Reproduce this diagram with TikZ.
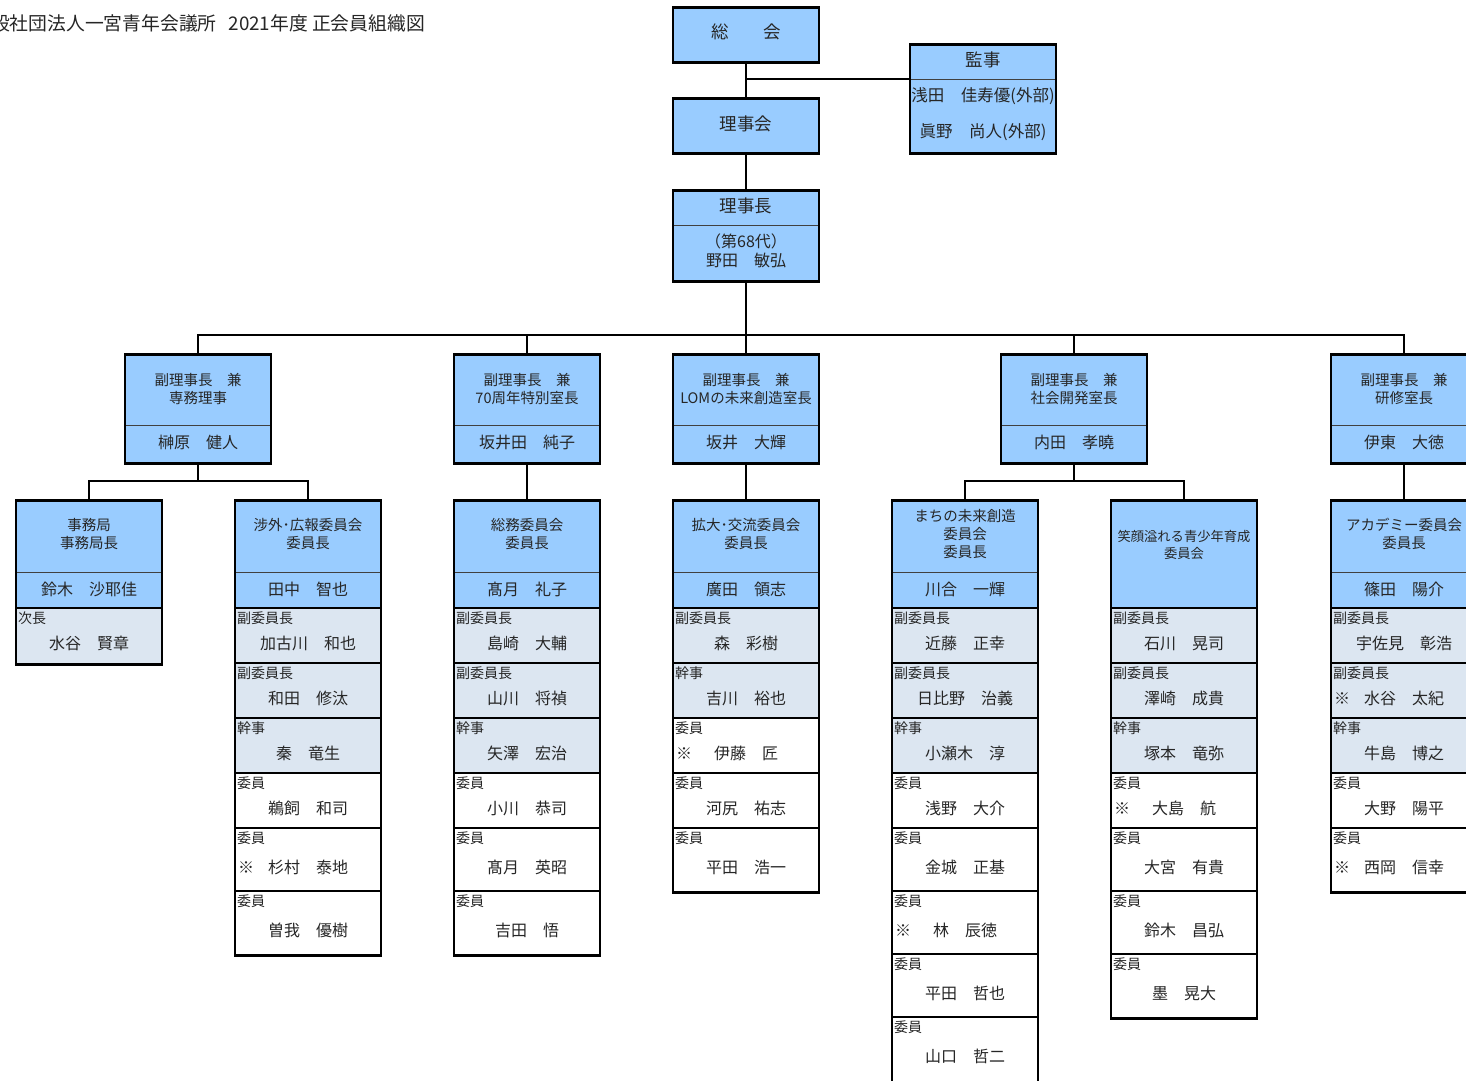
\documentclass[tikz,border=0pt]{standalone}
\usepackage{fontspec}
\setmainfont{Noto Sans CJK JP}
\definecolor{bluef}{HTML}{99CCFF}
\definecolor{grayf}{HTML}{DCE6F1}
\definecolor{txt}{HTML}{262626}
\tikzset{
  frame/.style={draw=black, line width=2.5pt, minimum width=146pt, anchor=north, inner sep=0pt},
  conn/.style={line width=2pt, draw=black},
  hdiv/.style={line width=1pt, draw=black!75},
  rdiv/.style={line width=2pt, draw=black},
  lbl/.style={font=\fontsize{14}{16}\selectfont, text=txt, anchor=west, inner sep=0pt},
  nm/.style={font=\fontsize{16}{18}\selectfont, text=txt, inner sep=0pt},
  hd/.style={font=\fontsize{14.5}{18}\selectfont, text=txt, inner sep=0pt, align=center},
  tt/.style={font=\fontsize{17.5}{19}\selectfont, text=txt, inner sep=0pt, align=center},
}
\newcommand{\rowg}[6]{%
  \fill[#4] ({#1-73},#2) rectangle ({#1+73},#3);
  \draw[rdiv] ({#1-73},#2) -- ({#1+73},#2);
  \node[lbl] at ({#1-71},{#2+10}) {#5};
  \node[nm] at (#1,{(#2+#3)/2+8}) {#6};
}
\newcommand{\rowk}[6]{%
  \rowg{#1}{#2}{#3}{#4}{#5}{#6}
  \node[nm] at ({#1-62},{(#2+#3)/2+8}) {※};
}
\newcommand{\vice}[4]{%
  \fill[bluef] ({#2-73},353) rectangle ({#2+73},462);
  \draw[hdiv] ({#2-73},425) -- ({#2+73},425);
  \node[hd] at (#2,389) {#3};
  \node[nm] at (#2,442) {#4};
  \node[frame, minimum height=109pt] (#1) at (#2,353) {};
}
\newcommand{\commhead}[4]{%
  \fill[bluef] ({#1-73},499) rectangle ({#1+73},608);
  \node[hd] at (#1,#2) {#3};
  \draw[hdiv] ({#1-73},572) -- ({#1+73},572);
  \node[nm] at (#1,589) {#4};
}
\begin{document}
\begin{tikzpicture}[x=1pt,y=-1pt]
\useasboundingbox (0,0) rectangle (1466,1080);
\clip (0,0) rectangle (1466,1080);
\fill[white] (0,0) rectangle (1466,1080);

% title
\node[anchor=west, inner sep=0pt, text=txt, font=\fontsize{18.8}{20}\selectfont] (title) at (-28,23) {一般社団法人一宮青年会議所\hspace{12pt}2021年度 正会員組織図};

% top boxes
\fill[bluef] (673,6) rectangle (819,61);
\node[tt] at (746,32) {総　　会};
\node[frame, minimum height=55pt] (soukai) at (746,6) {};

\fill[bluef] (673,97) rectangle (819,152);
\node[tt] at (746,124) {理事会};
\node[frame, minimum height=55pt] (rijikai) at (746,97) {};

\fill[bluef] (910,43) rectangle (1056,152);
\draw[hdiv] (910,79) -- (1056,79);
\node[tt] at (983,60) {監事};
\node[tt, font=\fontsize{16.5}{18}\selectfont] at (983,96) {浅田　佳寿優(外部)};
\node[tt, font=\fontsize{16.5}{18}\selectfont] at (983,132) {眞野　尚人(外部)};
\node[frame, minimum height=109pt] (kanji) at (983,43) {};

\fill[bluef] (673,189) rectangle (819,280);
\draw[hdiv] (673,225) -- (819,225);
\node[tt] at (746,206) {理事長};
\node[nm, align=center, font=\fontsize{16}{19}\selectfont] at (746,250.5) {（第68代）\\野田　敏弘};
\node[frame, minimum height=91pt] (rijicho) at (746,189) {};

% vice chairs
\vice{v1}{198}{副理事長　兼\\専務理事}{榊原　健人}
\vice{v2}{527}{副理事長　兼\\70周年特別室長}{坂井田　純子}
\vice{v3}{746}{副理事長　兼\\LOMの未来創造室長}{坂井　大輝}
\vice{v4}{1074}{副理事長　兼\\社会開発室長}{内田　孝曉}
\vice{v5}{1404}{副理事長　兼\\研修室長}{伊東　大徳}

% committees
\commhead{89}{534}{事務局\\事務局長}{鈴木　沙耶佳}
\rowg{89}{608}{663}{grayf}{次長}{水谷　賢章}
\node[frame, minimum height=164pt] (jimu) at (89,499) {};

\commhead{308}{534}{涉外･広報委員会\\委員長}{田中　智也}
\rowg{308}{608}{663}{grayf}{副委員長}{加古川　和也}
\rowg{308}{663}{718}{grayf}{副委員長}{和田　修汰}
\rowg{308}{718}{773}{grayf}{幹事}{秦　竜生}
\rowg{308}{773}{828}{white}{委員}{鵜飼　和司}
\rowk{308}{828}{891}{white}{委員}{杉村　泰地}
\rowg{308}{891}{954}{white}{委員}{曽我　優樹}
\node[frame, minimum height=455pt] (shogai) at (308,499) {};

\commhead{527}{534}{総務委員会\\委員長}{髙月　礼子}
\rowg{527}{608}{663}{grayf}{副委員長}{島崎　大輔}
\rowg{527}{663}{718}{grayf}{副委員長}{山川　将禎}
\rowg{527}{718}{773}{grayf}{幹事}{矢澤　宏治}
\rowg{527}{773}{828}{white}{委員}{小川　恭司}
\rowg{527}{828}{891}{white}{委員}{髙月　英昭}
\rowg{527}{891}{954}{white}{委員}{吉田　悟}
\node[frame, minimum height=455pt] (soumu) at (527,499) {};

\commhead{746}{534}{拡大･交流委員会\\委員長}{廣田　領志}
\rowg{746}{608}{663}{grayf}{副委員長}{森　彩樹}
\rowg{746}{663}{718}{grayf}{幹事}{吉川　裕也}
\rowk{746}{718}{773}{white}{委員}{伊藤　匠}
\rowg{746}{773}{828}{white}{委員}{河尻　祐志}
\rowg{746}{828}{891}{white}{委員}{平田　浩一}
\node[frame, minimum height=392pt] (kakudai) at (746,499) {};

\commhead{965}{534}{まちの未来創造\\委員会\\委員長}{川合　一輝}
\rowg{965}{608}{663}{grayf}{副委員長}{近藤　正幸}
\rowg{965}{663}{718}{grayf}{副委員長}{日比野　治義}
\rowg{965}{718}{773}{grayf}{幹事}{小瀬木　淳}
\rowg{965}{773}{828}{white}{委員}{浅野　大介}
\rowg{965}{828}{891}{white}{委員}{金城　正基}
\rowk{965}{891}{954}{white}{委員}{林　辰徳}
\rowg{965}{954}{1017}{white}{委員}{平田　哲也}
\rowg{965}{1017}{1080}{white}{委員}{山口　哲二}
\node[frame, minimum height=588pt] (machi) at (965,499) {};

\fill[bluef] (1111,499) rectangle (1257,608);
\node[hd, font=\fontsize{13.3}{17}\selectfont] at (1184,544.5) {笑顔溢れる青少年育成\\委員会};
\rowg{1184}{608}{663}{grayf}{副委員長}{石川　晃司}
\rowg{1184}{663}{718}{grayf}{副委員長}{澤崎　成貴}
\rowg{1184}{718}{773}{grayf}{幹事}{塚本　竜弥}
\rowk{1184}{773}{828}{white}{委員}{大島　航}
\rowg{1184}{828}{891}{white}{委員}{大宮　有貴}
\rowg{1184}{891}{954}{white}{委員}{鈴木　昌弘}
\rowg{1184}{954}{1017}{white}{委員}{墨　晃大}
\node[frame, minimum height=518pt] (egao) at (1184,499) {};

\commhead{1404}{534}{アカデミー委員会\\委員長}{篠田　陽介}
\rowg{1404}{608}{663}{grayf}{副委員長}{宇佐見　彰浩}
\rowk{1404}{663}{718}{grayf}{副委員長}{水谷　太紀}
\rowg{1404}{718}{773}{grayf}{幹事}{牛島　博之}
\rowg{1404}{773}{828}{white}{委員}{大野　陽平}
\rowk{1404}{828}{891}{white}{委員}{西岡　信幸}
\node[frame, minimum height=392pt] (academy) at (1404,499) {};

% connectors
\draw[conn] (soukai.south) -- (rijikai.north);
\coordinate (kj) at (746,79);
\draw[conn] (kj) -- (kj -| kanji.west);
\draw[conn] (rijikai.south) -- (rijicho.north);
\coordinate (bus) at (746,335);
\draw[conn] (rijicho.south) -- (bus);
\draw[conn] (bus) -| (v1.north);
\draw[conn] (bus) -| (v2.north);
\draw[conn] (bus) -- (v3.north);
\draw[conn] (bus) -| (v4.north);
\draw[conn] (bus) -| (v5.north);
\coordinate (b1) at (198,481);
\draw[conn] (v1.south) -- (b1);
\draw[conn] (b1) -| (jimu.north);
\draw[conn] (b1) -| (shogai.north);
\draw[conn] (v2.south) -- (soumu.north);
\draw[conn] (v3.south) -- (kakudai.north);
\coordinate (b4) at (1074,481);
\draw[conn] (v4.south) -- (b4);
\draw[conn] (b4) -| (machi.north);
\draw[conn] (b4) -| (egao.north);
\draw[conn] (v5.south) -- (academy.north);
\end{tikzpicture}
\end{document}
